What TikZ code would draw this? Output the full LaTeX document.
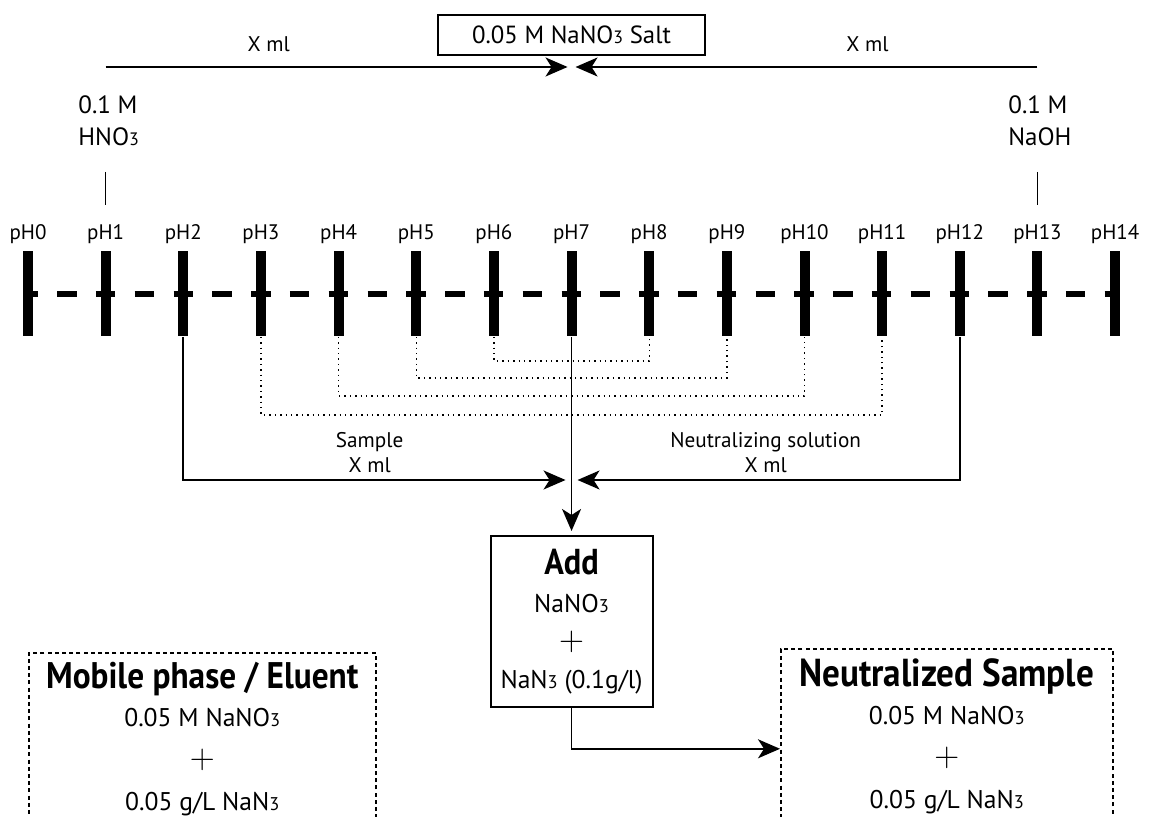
\documentclass[tikz,border=0pt]{standalone}
\usepackage{fontspec}
\setmainfont{PT Sans}
\newfontfamily\headfont{PT Sans}[FakeStretch=0.9]
\usetikzlibrary{positioning,arrows.meta,backgrounds}

% small digit sitting on the baseline (NaNO3, NaN3)
\newcommand{\lowdig}[1]{\scalebox{0.72}{#1}}
\newcommand{\bigplus}{{\fontsize{16}{19}\selectfont$+$}}

\tikzset{
  fig/.style={font=\fontsize{10.5}{12.5}\selectfont},
  lbl/.style={font=\fontsize{10.6}{12.5}\selectfont,inner sep=0pt,align=center},
  chem/.style={font=\fontsize{12.5}{16}\selectfont,inner sep=0pt,align=left},
  phbar/.style={fill=black,draw=none,minimum width=5pt,minimum height=42.5pt,inner sep=0pt},
  phlbl/.style={font=\fontsize{10.5}{12}\selectfont,inner sep=0pt,anchor=base},
  phaxis/.style={line width=3.4pt,dash pattern=on 9.7pt off 9.7pt,dash phase=4.85pt},
  ln/.style={-{Stealth[length=11pt,width=9.5pt,inset=3pt]},line width=0.9pt},
  tickln/.style={line width=0.55pt},
  pair/.style={dotted,line width=0.7pt},
  box/.style={draw,line width=1pt,inner sep=0pt,align=center},
  dbox/.style={draw,line width=0.8pt,dash pattern=on 2pt off 1.6pt,inner sep=0pt},
  boxtxt/.style={font=\fontsize{12.8}{21}\selectfont,align=center,inner sep=0pt},
}

\begin{document}
\begin{tikzpicture}[fig,x=0.5pt,y=-0.5pt]
\useasboundingbox (0,0) rectangle (1152,817);
\clip (0,0) rectangle (1152,817);

% pH scale
\foreach \i in {0,...,14}{
  \pgfmathsetmacro\px{28+77.65*\i}
  \node[phbar] (b\i) at (\px,294) {};
  \node[phlbl] (l\i) at (\px,240) {pH\i};
}
\begin{scope}[on background layer]
  \draw[phaxis] (b0.center) -- (b14.center);
\end{scope}

% acid, base and salt
\node[chem,anchor=north west] (acid) at (78,95) {0.1 M\\HNO\lowdig3};
\node[chem,anchor=north west] (base) at (1008,95) {0.1 M\\NaOH};
\node[box,font=\fontsize{12.4}{14}\selectfont,minimum width=133.5pt,minimum height=20pt] (salt) at (571.5,35) {0.05 M NaNO\lowdig3 Salt};

\coordinate (top) at (b7 |- 0,67);
\coordinate (acidin) at (b1 |- 0,67);
\coordinate (basein) at (b13 |- 0,67);
\draw[ln,shorten >=2pt] (acidin) -- node[lbl,above=7pt,pos=.35]{X ml} (top);
\draw[ln,shorten >=2pt] (basein) -- node[lbl,above=7pt,pos=.365]{X ml} (top);
\draw[tickln] (b1 |- 0,172) -- (b1 |- 0,205);
\draw[tickln] (b13 |- 0,172) -- (b13 |- 0,205);

% matching pairs
\foreach \a/\b/\d in {6/8/24,5/9/41,4/10/59,3/11/78}
  \draw[pair] (b\a.south) -- ++(0,\d) -| (b\b.south);

% sample + neutralizing solution
\coordinate (mix) at (b7 |- 0,480);
\draw[ln,shorten >=3pt] (b2.south) |- node[lbl,pos=.74,above=3pt]{Sample\\X ml} (mix);
\draw[ln,shorten >=3pt] (b12.south) |- node[lbl,pos=.75,above=3pt]{Neutralizing solution\\X ml} (mix);

\node[box,font=\fontsize{12.8}{19}\selectfont,minimum width=81pt,minimum height=85.5pt] (add) at (b7 |- 0,621.5)
  {{\headfont\bfseries\fontsize{18}{19}\selectfont Add}\\NaNO\lowdig3\\\bigplus\\NaN\lowdig3 (0.1g/l)};
\draw[ln,shorten >=2pt] (b7.south) -- (add.north);

% result boxes
\node[dbox,anchor=north west,minimum width=173.5pt,minimum height=100pt] (mobile) at (28,652) {};
\node[boxtxt,anchor=north] (mobtxt) at (mobile.north |- 0,662)
  {{\headfont\bfseries\fontsize{18.5}{20}\selectfont Mobile phase / Eluent}\\[-2pt]0.05 M NaNO\lowdig3\\\bigplus\\0.05 g/L NaN\lowdig3};

\node[dbox,anchor=north west,minimum width=166pt,minimum height=100pt] (neut) at (780,648) {};
\node[boxtxt,anchor=north] (neuttxt) at (neut.north |- 0,658)
  {{\headfont\bfseries\fontsize{19.5}{20}\selectfont Neutralized Sample}\\[-2pt]0.05 M NaNO\lowdig3\\\bigplus\\0.05 g/L NaN\lowdig3};

\draw[ln] (add.south) |- (neut.west);

\end{tikzpicture}
\end{document}
